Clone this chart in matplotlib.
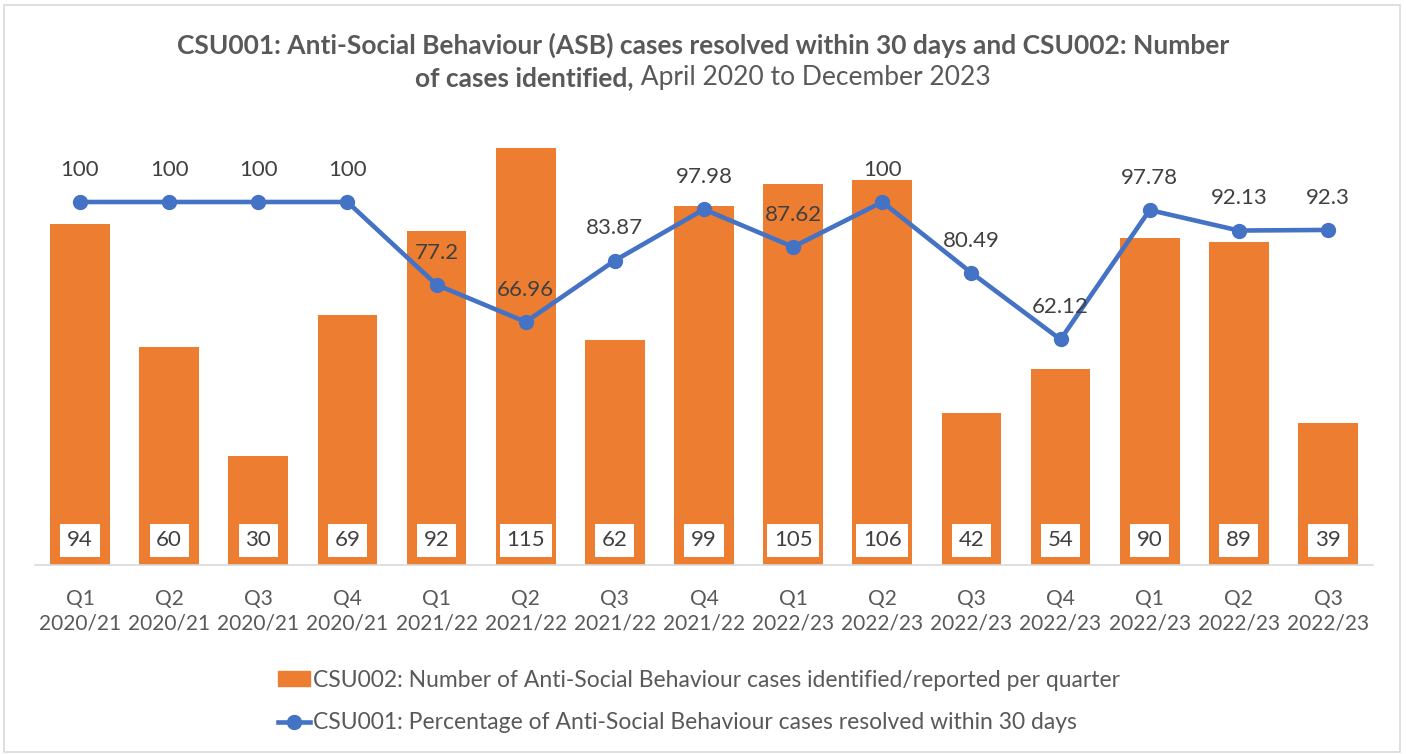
import matplotlib.pyplot as plt
from matplotlib.patches import Rectangle
from matplotlib.lines import Line2D
from matplotlib.patches import Patch

plt.rcParams['font.family'] = ['Lato', 'DejaVu Sans']

# data
quarters = ["Q1", "Q2", "Q3", "Q4", "Q1", "Q2", "Q3", "Q4", "Q1", "Q2", "Q3", "Q4", "Q1", "Q2", "Q3"]
years = ["2020/21", "2020/21", "2020/21", "2020/21", "2021/22", "2021/22", "2021/22", "2021/22",
         "2022/23", "2022/23", "2022/23", "2022/23", "2022/23", "2022/23", "2022/23"]
cases = [94, 60, 30, 69, 92, 115, 62, 99, 105, 106, 42, 54, 90, 89, 39]
resolved_pct = [100, 100, 100, 100, 77.2, 66.96, 83.87, 97.98, 87.62, 100, 80.49, 62.12, 97.78, 92.13, 92.3]
pct_labels = ["100", "100", "100", "100", "77.2", "66.96", "83.87", "97.98", "87.62", "100",
              "80.49", "62.12", "97.78", "92.13", "92.3"]

orange = "#ED7D31"
blue = "#4472C4"
grey = "#595959"

fig = plt.figure(figsize=(14.06, 7.54), dpi=100)
ax = fig.add_axes([0.0252, 0.2507, 0.951, 0.5777])

x = list(range(len(cases)))
ax.bar(x, cases, width=0.67, color=orange, zorder=2)
ax.plot(x, resolved_pct, color=blue, lw=3.3, marker="o", ms=10, zorder=3)

for xi, v in zip(x, cases):
    ax.text(xi, 6.8, str(v), ha="center", va="center", fontsize=16, color="#404040", zorder=4,
            bbox=dict(boxstyle="square,pad=0.3", fc="white", ec="none"))
for xi, v, lab in zip(x, resolved_pct, pct_labels):
    ax.annotate(lab, (xi, v), xytext=(0, 16), textcoords="offset points", ha="center", va="bottom",
                fontsize=16, color="#404040", zorder=5)

ax.set_xlim(-0.5, len(cases) - 0.5)
ax.set_ylim(0, 120)
ax.set_yticks([])
ax.set_xticks(x)
ax.set_xticklabels([q + "\n" + y for q, y in zip(quarters, years)], fontsize=15, color=grey, linespacing=1.3)
ax.tick_params(axis="x", length=0, pad=17)
for s in ["top", "right", "left"]:
    ax.spines[s].set_visible(False)
ax.spines["bottom"].set_color("#D9D9D9")
ax.spines["bottom"].set_linewidth(1.2)

# title, mixed bold / normal
fig.text(0.5, 1 - 45 / 754, "CSU001: Anti-Social Behaviour (ASB) cases resolved within 30 days and CSU002: Number",
         ha="center", va="center", fontsize=19, fontweight="bold", color=grey)
fig.canvas.draw()
r = fig.canvas.get_renderer()
t1 = fig.text(0, 1 - 78 / 754, "of cases identified,", ha="left", va="center", fontsize=19,
              fontweight="bold", color=grey)
t2 = fig.text(0, 1 - 78 / 754, " April 2020 to December 2023", ha="left", va="center", fontsize=19, color=grey)
w1 = t1.get_window_extent(r).width
w2 = t2.get_window_extent(r).width
start = (1406 - (w1 + w2)) / 2
t1.set_x(start / 1406)
t2.set_x((start + w1) / 1406)

handles = [Patch(color=orange), Line2D([], [], color=blue, lw=3.3, marker="o", ms=10)]
labels = ["CSU002: Number of Anti-Social Behaviour cases identified/reported per quarter",
          "CSU001: Percentage of Anti-Social Behaviour cases resolved within 30 days"]
leg = fig.legend(handles, labels, loc="upper center", bbox_to_anchor=(0.497, 1 - 649 / 754), ncol=1,
                 frameon=False, fontsize=16.5, handlelength=1.4, handleheight=0.6, handletextpad=0.15,
                 labelspacing=0.95)
for t in leg.get_texts():
    t.set_color(grey)

fig.patches.append(Rectangle((0.003, 0.003), 0.993, 0.99, transform=fig.transFigure, fill=False,
                             ec="#D9D9D9", lw=1.2))

fig.savefig("out.png", dpi=100)
